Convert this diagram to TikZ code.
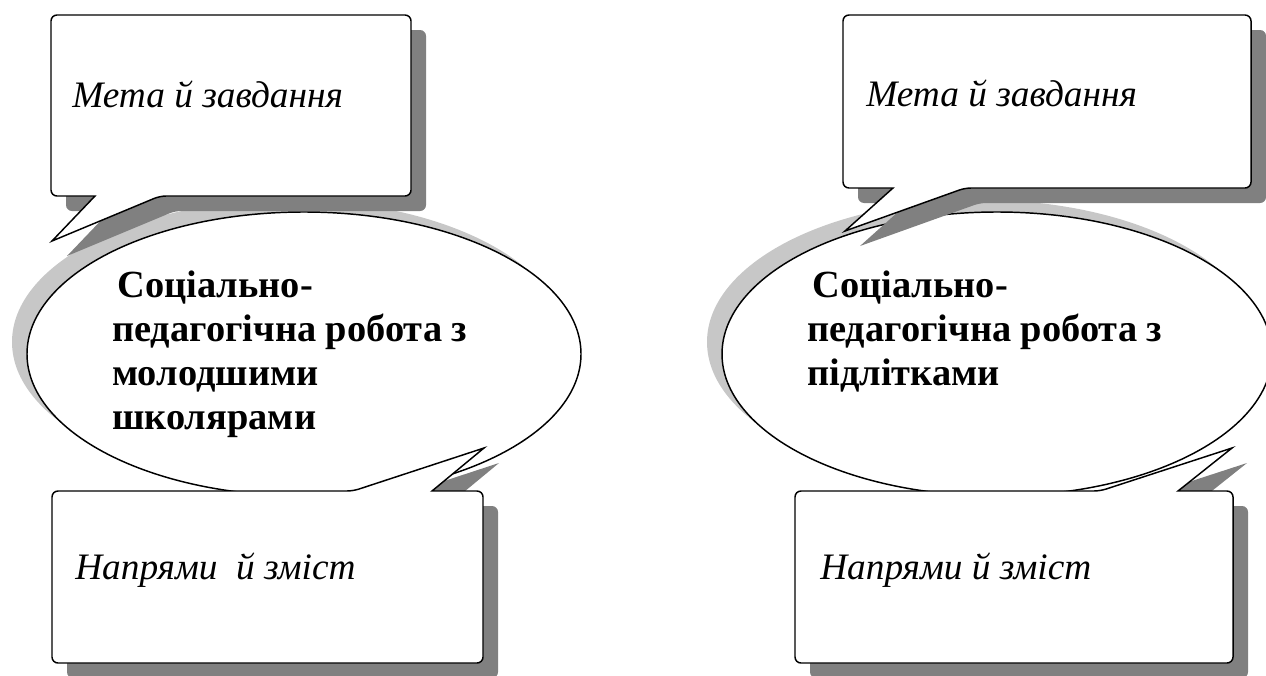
\documentclass[tikz,border=0pt]{standalone}
\usepackage{fontspec}
\setmainfont{Liberation Serif}
\usetikzlibrary{shapes.geometric,shadows}

\begin{document}
\begin{tikzpicture}[x=0.75pt, y=-0.75pt,
every node/.style={inner sep=0pt, align=left},
ovalbox/.style={ellipse, draw, line width=1.1pt, fill=white, minimum height=213pt,
  drop shadow={shadow xshift=-11.25pt, shadow yshift=9pt, fill=black!22, opacity=1}},
callbox/.style={draw, line width=1.1pt, fill=white, line join=miter,
  drop shadow={shadow xshift=11.25pt, shadow yshift=-11.25pt, fill=black!50, opacity=1}},
boxtext/.style={anchor=base west, font=\fontsize{28}{33}\selectfont\itshape},
ovaltext/.style={anchor=north west, font=\fontsize{28.8}{33}\selectfont\bfseries}]
\useasboundingbox (0,0) rectangle (1266,675);

\node[ovalbox, minimum width=415.5pt] (ovalL) at (304,354) {};
\node[ovalbox, minimum width=412.5pt] (ovalR) at (997,354) {};

\path[callbox] (95,196) [rounded corners=4.5pt] -- (51,196) -- (51,15) -- (411,15) -- (411,196) -- (160,196) [sharp corners] -- (52,241) -- cycle;
\path[callbox] (893,188) [rounded corners=4.5pt] -- (843,188) -- (843,15) -- (1251,15) -- (1251,188) -- (965,188) [sharp corners] -- (845,231) -- cycle;
\path[callbox] (432,491) [rounded corners=4.5pt] -- (483,491) -- (483,663) -- (52,663) -- (52,491) -- (353,491) [sharp corners] -- (484,448) -- cycle;
\path[callbox] (1178,491) [rounded corners=4.5pt] -- (1233,491) -- (1233,663) -- (795,663) -- (795,491) -- (1100,491) [sharp corners] -- (1232,448) -- cycle;

\node[boxtext] (metaL) at (72,107) {Мета й завдання};
\node[boxtext] (metaR) at (866,106) {Мета й завдання};
\node[boxtext] (zmistL) at (75,579) {Напрями \ й зміст};
\node[boxtext] (zmistR) at (820,579) {Напрями й зміст};

\node[ovaltext] (textL) at (112,271) {\hspace*{4pt}Соціально-\\педагогічна робота з\\молодшими\\школярами};
\node[ovaltext] (textR) at (807,271) {\hspace*{4pt}Соціально-\\педагогічна робота з\\підлітками};
\end{tikzpicture}
\end{document}
